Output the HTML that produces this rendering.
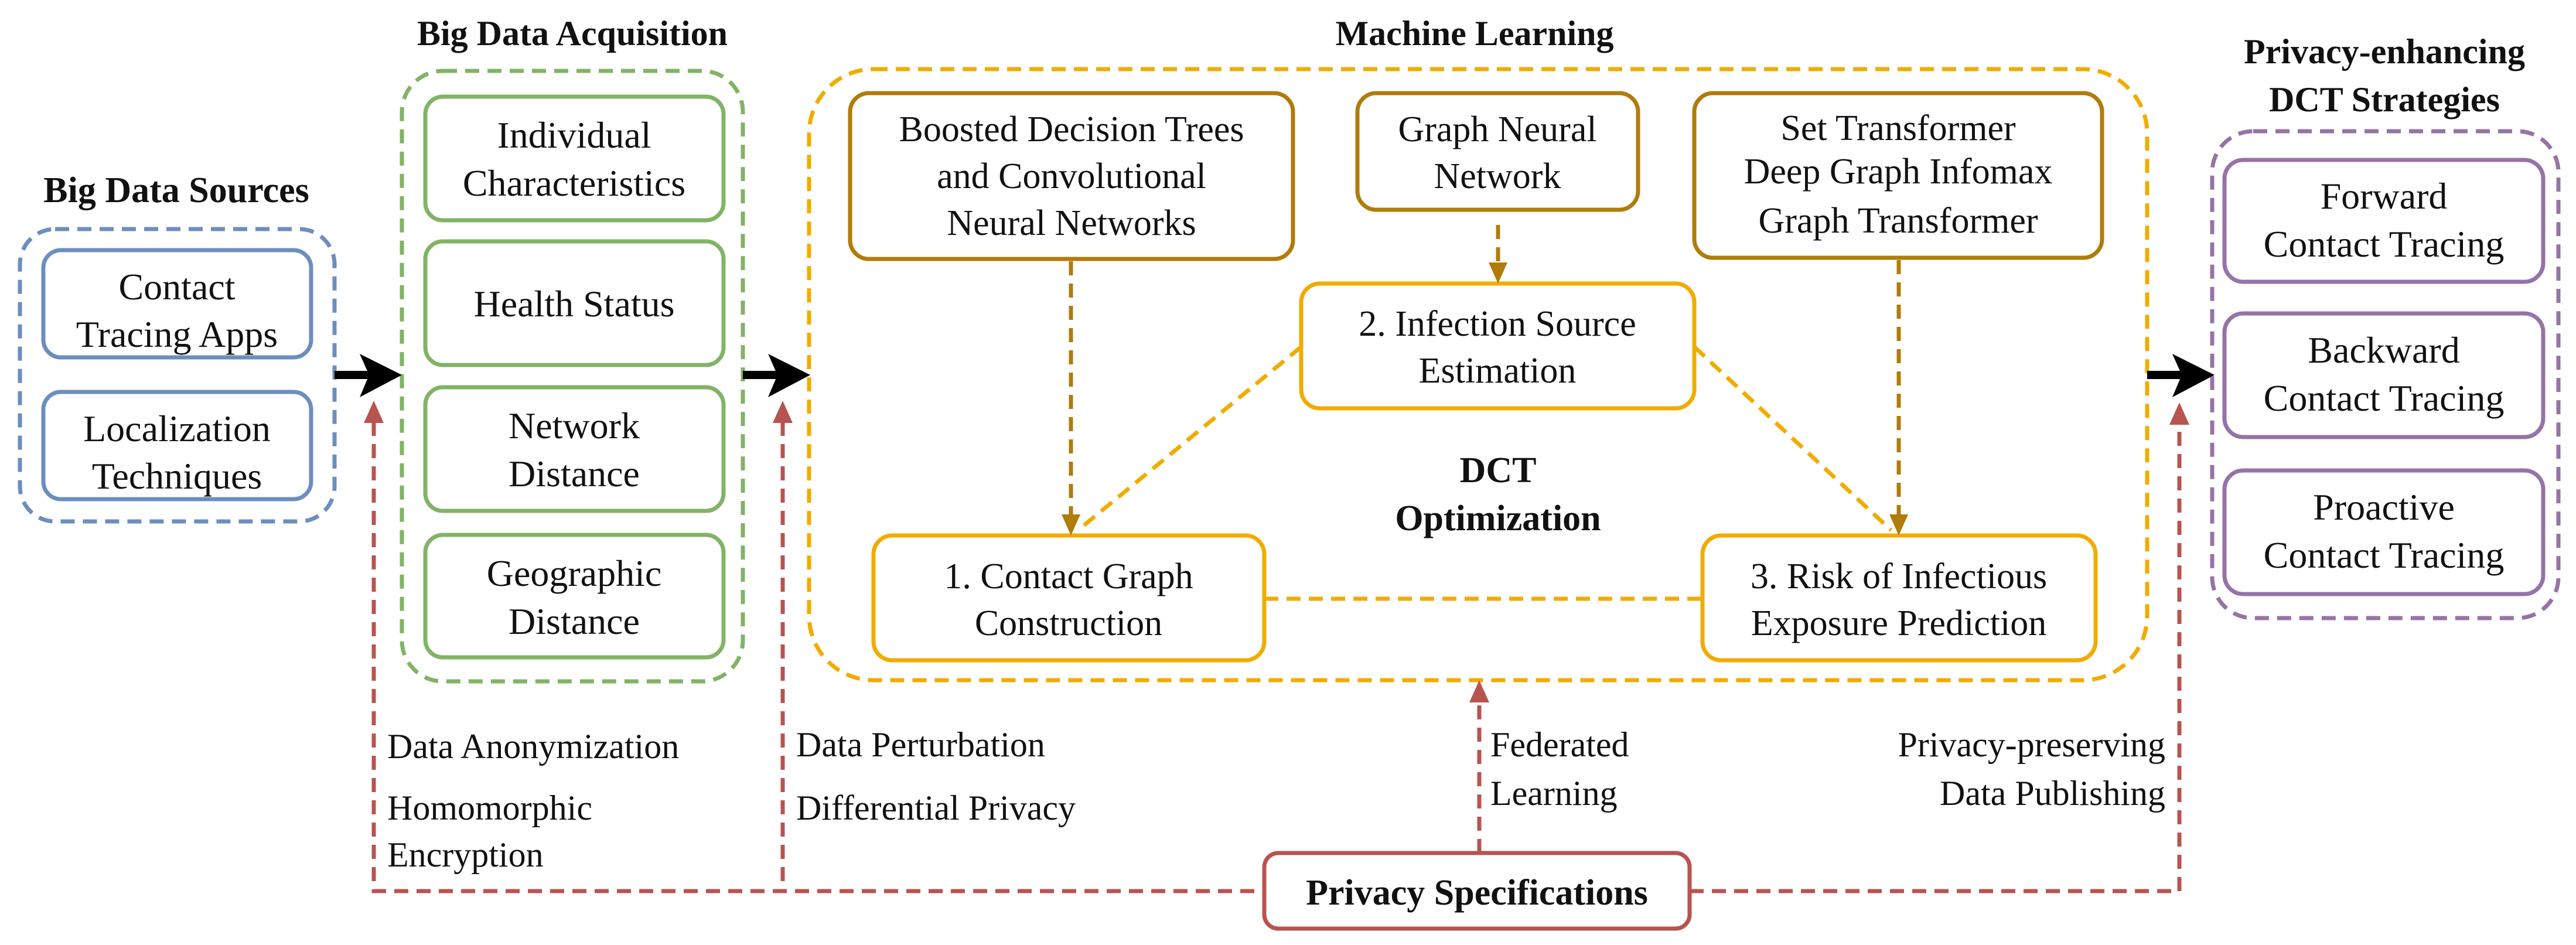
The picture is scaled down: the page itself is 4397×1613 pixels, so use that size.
<!DOCTYPE html>
<html><head><meta charset="utf-8"><style>
html,body{margin:0;padding:0;background:#fff;}
svg{display:block;font-family:"Liberation Serif","DejaVu Serif",serif;}
svg text{font-family:"Liberation Serif","DejaVu Serif",serif;fill:#111;}
.t{font-size:64px;text-anchor:middle;}
.m{font-size:62px;text-anchor:middle;}
.b{font-weight:bold;}
.l{font-size:60px;}
</style></head><body>
<svg width="4397" height="1613" viewBox="0 0 4397 1613" xmlns="http://www.w3.org/2000/svg" font-family="Liberation Serif, DejaVu Serif, serif">

<!-- Titles -->
<text class="t b" x="301" y="345" style="font-size:62px">Big Data Sources</text>
<text class="t b" x="977" y="77" style="font-size:60px">Big Data Acquisition</text>
<text class="t b" x="2517" y="77" style="font-size:60px">Machine Learning</text>
<text class="t b" x="4070" y="108" style="font-size:60px">Privacy-enhancing</text>
<text class="t b" x="4070" y="190" style="font-size:60px">DCT Strategies</text>

<!-- Blue group -->
<rect x="34" y="391" width="537" height="499" rx="60" fill="none" stroke="#6c8ebf" stroke-width="7" stroke-dasharray="24 14"/>
<rect x="74" y="427" width="457" height="183" rx="30" fill="none" stroke="#6c8ebf" stroke-width="7"/>
<text class="t" x="302" y="511">Contact</text>
<text class="t" x="302" y="592">Tracing Apps</text>
<rect x="74" y="669" width="457" height="183" rx="30" fill="none" stroke="#6c8ebf" stroke-width="7"/>
<text class="t" x="302" y="753">Localization</text>
<text class="t" x="302" y="834">Techniques</text>

<!-- Green group -->
<rect x="686" y="121" width="582" height="1042" rx="70" fill="none" stroke="#82b366" stroke-width="7" stroke-dasharray="24 14"/>
<rect x="726" y="165" width="509" height="211" rx="30" fill="none" stroke="#82b366" stroke-width="7"/>
<text class="t" x="980" y="252">Individual</text>
<text class="t" x="980" y="334">Characteristics</text>
<rect x="726" y="412" width="509" height="211" rx="30" fill="none" stroke="#82b366" stroke-width="7"/>
<text class="t" x="980" y="540">Health Status</text>
<rect x="726" y="661" width="509" height="211" rx="30" fill="none" stroke="#82b366" stroke-width="7"/>
<text class="t" x="980" y="748">Network</text>
<text class="t" x="980" y="830">Distance</text>
<rect x="726" y="913" width="509" height="209" rx="30" fill="none" stroke="#82b366" stroke-width="7"/>
<text class="t" x="980" y="1000">Geographic</text>
<text class="t" x="980" y="1082">Distance</text>

<!-- Orange group -->
<rect x="1381" y="118" width="2284" height="1043" rx="110" fill="none" stroke="#f0ac00" stroke-width="7" stroke-dasharray="24 14"/>
<rect x="1451" y="159" width="756" height="283" rx="32" fill="none" stroke="#b07c0a" stroke-width="7"/>
<text class="m" x="1829" y="241">Boosted Decision Trees</text>
<text class="m" x="1829" y="321">and Convolutional</text>
<text class="m" x="1829" y="401">Neural Networks</text>
<rect x="2317" y="159" width="479" height="199" rx="32" fill="none" stroke="#b07c0a" stroke-width="7"/>
<text class="m" x="2556" y="241">Graph Neural</text>
<text class="m" x="2556" y="321">Network</text>
<rect x="2892" y="159" width="696" height="281" rx="32" fill="none" stroke="#b07c0a" stroke-width="7"/>
<text class="m" x="3240" y="239">Set Transformer</text>
<text class="m" x="3240" y="313">Deep Graph Infomax</text>
<text class="m" x="3240" y="397">Graph Transformer</text>

<rect x="2221" y="484" width="671" height="213" rx="32" fill="none" stroke="#f0ac00" stroke-width="7"/>
<text class="m" x="2556" y="573">2. Infection Source</text>
<text class="m" x="2556" y="653">Estimation</text>
<rect x="1491" y="914" width="667" height="213" rx="32" fill="none" stroke="#f0ac00" stroke-width="7"/>
<text class="m" x="1824" y="1004">1. Contact Graph</text>
<text class="m" x="1824" y="1084">Construction</text>
<rect x="2906" y="914" width="671" height="213" rx="32" fill="none" stroke="#f0ac00" stroke-width="7"/>
<text class="m" x="3241" y="1004">3. Risk of Infectious</text>
<text class="m" x="3241" y="1084">Exposure Prediction</text>
<text class="m b" x="2557" y="823">DCT</text>
<text class="m b" x="2557" y="905">Optimization</text>

<!-- orange dashed connectors -->
<g stroke="#f0ac00" stroke-width="7" stroke-dasharray="24 14" fill="none">
<line x1="2221" y1="592" x2="1840" y2="905"/>
<line x1="2892" y1="592" x2="3228" y2="905"/>
<line x1="2158" y1="1022" x2="2906" y2="1022"/>
</g>
<!-- brown dashed arrows -->
<g stroke="#b07c0a" stroke-width="7" stroke-dasharray="24 14" fill="none">
<line x1="1828" y1="446" x2="1828" y2="885"/>
<line x1="2557" y1="384" x2="2557" y2="455"/>
<line x1="3241" y1="444" x2="3241" y2="885"/>
</g>
<g fill="#b07c0a">
<path d="M1812,878 L1844,878 L1828,914 Z"/>
<path d="M2541,448 L2573,448 L2557,484 Z"/>
<path d="M3225,878 L3257,878 L3241,914 Z"/>
</g>

<!-- Purple group -->
<rect x="3776" y="224" width="591" height="831" rx="70" fill="none" stroke="#9673a6" stroke-width="7" stroke-dasharray="24 14"/>
<rect x="3797" y="273" width="544" height="208" rx="32" fill="none" stroke="#9673a6" stroke-width="7"/>
<text class="t" x="4069" y="356">Forward</text>
<text class="t" x="4069" y="438">Contact Tracing</text>
<rect x="3797" y="535" width="544" height="211" rx="32" fill="none" stroke="#9673a6" stroke-width="7"/>
<text class="t" x="4069" y="619">Backward</text>
<text class="t" x="4069" y="701">Contact Tracing</text>
<rect x="3797" y="803" width="544" height="211" rx="32" fill="none" stroke="#9673a6" stroke-width="7"/>
<text class="t" x="4069" y="887">Proactive</text>
<text class="t" x="4069" y="969">Contact Tracing</text>

<!-- black arrows -->
<g stroke="#000" stroke-width="14">
<line x1="571" y1="640" x2="630" y2="640"/>
<line x1="1268" y1="640" x2="1327" y2="640"/>
<line x1="3665" y1="640" x2="3724" y2="640"/>
</g>
<g fill="#000">
<path d="M614,604 L686,640 L614,678 L630,640 Z"/>
<path d="M1311,604 L1383,640 L1311,678 L1327,640 Z"/>
<path d="M3708,604 L3780,640 L3708,678 L3724,640 Z"/>
</g>

<!-- red privacy connectors -->
<g stroke="#b85450" stroke-width="7" stroke-dasharray="24 14" fill="none">
<polyline points="638,720 638,1521 2158,1521"/>
<line x1="1336" y1="720" x2="1336" y2="1521"/>
<polyline points="2884,1521 3720,1521 3720,720"/>
<line x1="2525" y1="1456" x2="2525" y2="1195"/>
</g>
<g fill="#b85450">
<path d="M621,722 L638,684 L655,722 Z"/>
<path d="M1319,722 L1336,684 L1353,722 Z"/>
<path d="M3703,725 L3720,687 L3737,725 Z"/>
<path d="M2508,1199 L2525,1161 L2542,1199 Z"/>
</g>
<rect x="2158" y="1456" width="726" height="129" rx="24" fill="#fff" stroke="#b85450" stroke-width="7"/>
<text class="m b" x="2521" y="1544">Privacy Specifications</text>

<!-- privacy labels -->
<text class="l" x="661" y="1294">Data Anonymization</text>
<text class="l" x="661" y="1399">Homomorphic</text>
<text class="l" x="661" y="1479">Encryption</text>
<text class="l" x="1359" y="1291">Data Perturbation</text>
<text class="l" x="1359" y="1399">Differential Privacy</text>
<text class="l" x="2544" y="1291">Federated</text>
<text class="l" x="2544" y="1374">Learning</text>
<text class="l" x="3696" y="1291" text-anchor="end">Privacy-preserving</text>
<text class="l" x="3696" y="1374" text-anchor="end">Data Publishing</text>
</svg>
</body></html>
